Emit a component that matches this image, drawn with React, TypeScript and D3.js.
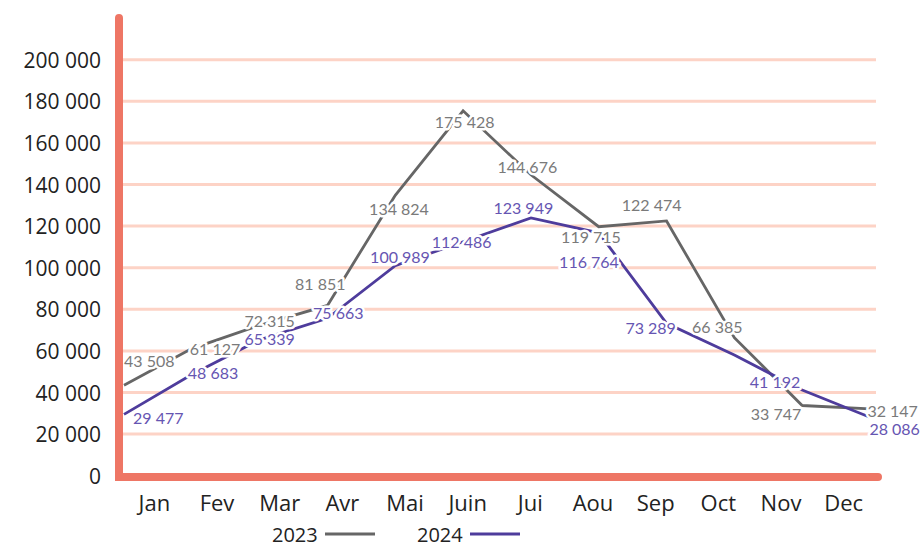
import React from "react";
import * as d3 from "d3";

const MONTHS = ["Jan", "Fev", "Mar", "Avr", "Mai", "Juin", "Jui", "Aou", "Sep", "Oct", "Nov", "Dec"];
const VALUES_2023 = [43508, 61127, 72315, 81851, 134824, 175428, 144676, 119715, 122474, 66385, 33747, 32147];
const VALUES_2024 = [29477, 48683, 65339, 75663, 100989, 112486, 123949, 116764, 73289, 58000, 41192, 28086];
const SHOW_LABEL_2024 = [true, true, true, true, true, true, true, true, true, false, true, true];
const Y_TICKS = [0, 20000, 40000, 60000, 80000, 100000, 120000, 140000, 160000, 180000, 200000];
const SERIES_NAMES = ["2023", "2024"];

// label nudges (dx, dy) relative to category centre / value position
const NUDGE_2023: [number, number][] = [[-5, -25], [-2, 0], [-10, -5], [-22, -22], [-6, 13], [-3, 11], [-3, -8], [-2, 10], [-4, -16], [-1, -11], [-5, 8], [49, 2]];
const NUDGE_2024: [number, number][] = [[4, 3], [-4, -2], [-10, -1], [-4, -6], [-5, -9], [-6, 0], [-7, -10], [-4, 29], [-5, 4], [0, 0], [-6, -9], [51, 11]];

const W = 924, H = 548;
const AXIS_COLOR = "#EE7665";
const GRID_COLOR = "#FDD3C6";
const C2023 = "#666666";
const C2024 = "#4E3C9C";
const T2023 = "#7A7A7A";
const T2024 = "#6655B2";

const fmt = (v: number) => d3.format(",")(v).replace(/,/g, " ");

export default function App() {
  const y = d3.scaleLinear().domain([0, 200000]).range([475.7, 59.7]);
  const xPt = d3.scalePoint<string>().domain(MONTHS).range([124, 870]);
  const xBand = d3.scaleBand<string>().domain(MONTHS).range([123, 875]);
  const cx = (m: string) => (xBand(m) as number) + xBand.bandwidth() / 2;

  const line = d3.line<number>().x((_, i) => xPt(MONTHS[i]) as number).y((v) => y(v));

  const halo = { stroke: "#fff", strokeWidth: 5, paintOrder: "stroke" as const, strokeLinejoin: "round" as const };
  const labelFont = { fontFamily: "Lato, 'Open Sans', sans-serif", fontWeight: 400, fontSize: 16 };

  return (
    <svg width={W} height={H} style={{ position: "absolute", left: 0, top: 0, display: "block", background: "#fff" }}>
      {/* gridlines */}
      {Y_TICKS.filter((t) => t > 0).map((t) => (
        <line key={t} x1={123} x2={876} y1={y(t)} y2={y(t)} stroke={GRID_COLOR} strokeWidth={3} />
      ))}
      {/* y tick labels */}
      {Y_TICKS.map((t) => (
        <text key={t} x={101} y={y(t)} textAnchor="end" dominantBaseline="central"
          style={{ fontFamily: "'Open Sans', sans-serif", fontSize: 21, fill: "#222" }}>
          {fmt(t)}
        </text>
      ))}
      {/* x tick labels */}
      {MONTHS.map((m) => (
        <text key={m} x={cx(m)} y={502} textAnchor="middle" dominantBaseline="central"
          style={{ fontFamily: "'Open Sans', sans-serif", fontSize: 22, fill: "#222" }}>
          {m}
        </text>
      ))}
      {/* lines */}
      <path d={line(VALUES_2023) || ""} fill="none" stroke={C2023} strokeWidth={2.8} strokeLinejoin="miter" />
      <path d={line(VALUES_2024) || ""} fill="none" stroke={C2024} strokeWidth={2.8} strokeLinejoin="miter" />
      {/* value labels */}
      {VALUES_2023.map((v, i) => (
        <text key={"a" + i} x={cx(MONTHS[i]) + NUDGE_2023[i][0]} y={y(v) + NUDGE_2023[i][1]}
          textAnchor="middle" dominantBaseline="central" style={{ ...labelFont, fill: T2023, ...halo }}>
          {fmt(v)}
        </text>
      ))}
      {VALUES_2024.map((v, i) =>
        SHOW_LABEL_2024[i] ? (
          <text key={"b" + i} x={cx(MONTHS[i]) + NUDGE_2024[i][0]} y={y(v) + NUDGE_2024[i][1]}
            textAnchor="middle" dominantBaseline="central" style={{ ...labelFont, fill: T2024, ...halo }}>
            {fmt(v)}
          </text>
        ) : null
      )}
      {/* axes */}
      <path d={`M119,18 L119,${y(0) + 1.3} L878,${y(0) + 1.3}`} fill="none" stroke={AXIS_COLOR}
        strokeWidth={8} strokeLinecap="round" strokeLinejoin="miter" />
      {/* legend */}
      {SERIES_NAMES.map((s, i) => {
        const x0 = i === 0 ? 272 : 417;
        return (
          <g key={s}>
            <text x={x0} y={534} dominantBaseline="central"
              style={{ fontFamily: "'Open Sans', sans-serif", fontSize: 20, fill: "#222" }}>{s}</text>
            <line x1={x0 + 53} x2={x0 + 103} y1={534} y2={534} stroke={i === 0 ? C2023 : C2024} strokeWidth={3} />
          </g>
        );
      })}
    </svg>
  );
}
